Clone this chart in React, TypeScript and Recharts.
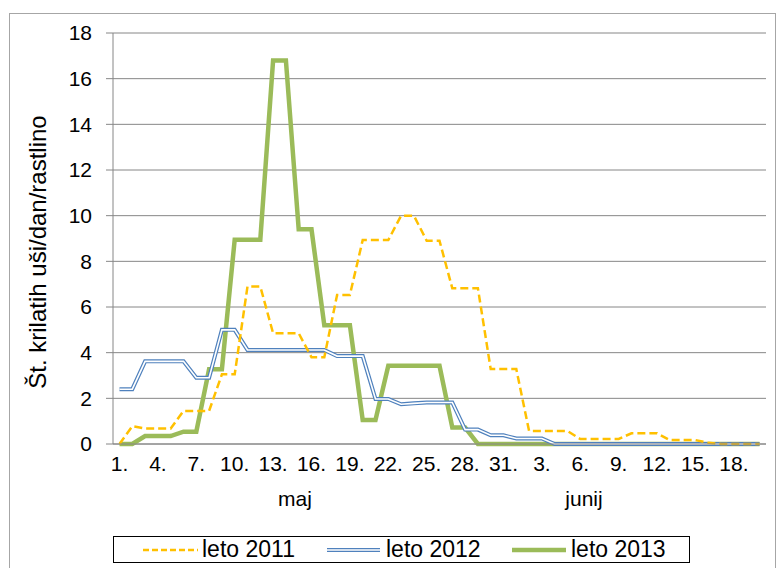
import { LineChart, Line, XAxis, YAxis, CartesianGrid } from "recharts";

// dnevi: 1.–31. maj, 1.–20. junij
const mayDays = Array.from({ length: 31 }, (_, i) => i + 1);
const juneDays = Array.from({ length: 20 }, (_, i) => i + 1);

const leto2011 = [
  0, 0.78, 0.68, 0.68, 0.68, 1.45, 1.45, 1.45, 3.05, 3.05, 6.9, 6.9, 4.85, 4.85, 4.85, 3.8, 3.8,
  6.53, 6.53, 8.93, 8.93, 8.93, 10.0, 10.0, 8.9, 8.9, 6.82, 6.82, 6.82, 3.28, 3.28, 3.28, 0.57,
  0.57, 0.57, 0.57, 0.22, 0.22, 0.22, 0.22, 0.47, 0.47, 0.47, 0.17, 0.17, 0.17, 0.05, 0, 0, 0, 0,
];
const leto2012 = [
  2.4, 2.4, 3.62, 3.62, 3.62, 3.62, 2.9, 2.9, 5.0, 5.0, 4.12, 4.12, 4.12, 4.12, 4.12, 4.12, 4.12,
  3.85, 3.85, 3.85, 1.97, 1.97, 1.74, 1.78, 1.82, 1.82, 1.82, 0.63, 0.63, 0.38, 0.38, 0.24, 0.24,
  0.24, 0, 0, 0, 0, 0, 0, 0, 0, 0, 0, 0, 0, 0, 0, 0, 0, 0,
];
const leto2013 = [
  0, 0, 0.35, 0.35, 0.35, 0.54, 0.54, 3.27, 3.27, 8.95, 8.95, 8.95, 16.8, 16.8, 9.4, 9.4, 5.2,
  5.2, 5.2, 1.05, 1.05, 3.43, 3.43, 3.43, 3.43, 3.43, 0.72, 0.72, 0, 0, 0, 0, 0, 0, 0, 0, 0, 0,
  0, 0, 0, 0, 0, 0, 0, 0, 0, 0, 0, 0, 0,
];
const yTicks = [0, 2, 4, 6, 8, 10, 12, 14, 16, 18];

const data = [
  ...mayDays.map(d => ({ key: `${d}.5.` })),
  ...juneDays.map(d => ({ key: `${d}.6.` })),
].map((row, i) => ({ ...row, y2011: leto2011[i], y2012: leto2012[i], y2013: leto2013[i] }));

const FONT = '"Liberation Sans", Arial, sans-serif';
const GRID = "#868686";

export default function App() {
  return (
    <div style={{ position: "relative", width: 776, height: 560, overflow: "hidden", fontFamily: FONT }}>
      <div
        style={{
          position: "absolute",
          left: 1,
          top: 5,
          width: 767,
          height: 600,
          border: "1px solid #a6a6a6",
          boxSizing: "border-box",
        }}
      />
      <div style={{ position: "absolute", left: 0, top: 0 }}>
        <LineChart width={776} height={560} data={data} margin={{ top: 25, right: 18, left: 45, bottom: 94 }}>
          <CartesianGrid vertical={false} stroke={GRID} strokeWidth={1} />
          <XAxis
            dataKey="key"
            tickFormatter={(v: string) => `${String(v).split(".")[0]}.`}
            interval={2}
            tickLine={false}
            axisLine={{ stroke: GRID }}
            tick={{ fill: "#000", fontSize: 21, fontFamily: FONT }}
            tickSize={6}
            tickMargin={6}
            height={30}
            padding={{ left: 6.5, right: 6.5 }}
          />
          <YAxis
            domain={[0, 18]}
            ticks={yTicks}
            width={60}
            axisLine={{ stroke: GRID }}
            tickLine={{ stroke: GRID }}
            tickSize={7}
            tickMargin={14}
            tick={{ fill: "#000", fontSize: 21, fontFamily: FONT }}
          />
          <Line type="linear" dataKey="y2013" stroke="#9BBB59" strokeWidth={4.5} dot={false} isAnimationActive={false} />
          <Line type="linear" dataKey="y2012" stroke="#4F81BD" strokeWidth={4} dot={false} isAnimationActive={false} />
          <Line type="linear" dataKey="y2012" stroke="#ffffff" strokeWidth={1.6} dot={false} isAnimationActive={false} />
          <Line
            type="linear"
            dataKey="y2011"
            stroke="#FFC000"
            strokeWidth={2.5}
            strokeDasharray="8 4"
            dot={false}
            isAnimationActive={false}
          />
        </LineChart>
      </div>

      {/* naslov osi y */}
      <div
        style={{
          position: "absolute",
          left: 30,
          top: 244,
          transform: "translate(-50%, -50%) rotate(-90deg)",
          whiteSpace: "nowrap",
          fontSize: 24,
          color: "#000",
        }}
      >
        Št. krilatih uši/dan/rastlino
      </div>

      {/* meseca */}
      <div style={{ position: "absolute", left: 287, top: 491, transform: "translate(-50%, -50%)", fontSize: 21 }}>
        maj
      </div>
      <div style={{ position: "absolute", left: 576, top: 491, transform: "translate(-50%, -50%)", fontSize: 21 }}>
        junij
      </div>

      {/* legenda */}
      <div
        style={{
          position: "absolute",
          left: 105,
          top: 528,
          width: 577,
          height: 27,
          border: "1px solid #000",
          boxSizing: "border-box",
          fontSize: 23,
        }}
      >
        <LegendItem left={29} text="leto 2011">
          <line x1={0} y1={6} x2={55} y2={6} stroke="#FFC000" strokeWidth={2.5} strokeDasharray="6 3" />
        </LegendItem>
        <LegendItem left={213} text="leto 2012">
          <line x1={0} y1={6} x2={53} y2={6} stroke="#4F81BD" strokeWidth={4} />
          <line x1={0} y1={6} x2={53} y2={6} stroke="#fff" strokeWidth={1.6} />
        </LegendItem>
        <LegendItem left={398} text="leto 2013">
          <line x1={0} y1={6} x2={54} y2={6} stroke="#9BBB59" strokeWidth={4.5} />
        </LegendItem>
      </div>
    </div>
  );
}

function LegendItem({ left, text, children }: { left: number; text: string; children: React.ReactNode }) {
  return (
    <div style={{ position: "absolute", left, top: 0, height: 25, display: "flex", alignItems: "center" }}>
      <svg width={57} height={12} style={{ display: "block" }}>
        {children}
      </svg>
      <span style={{ marginLeft: 2, lineHeight: "25px" }}>{text}</span>
    </div>
  );
}
